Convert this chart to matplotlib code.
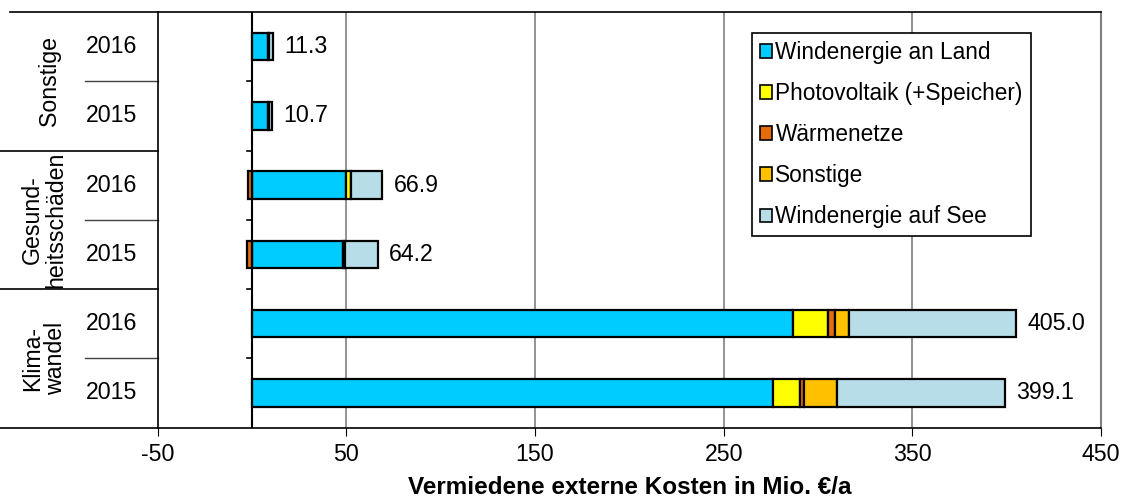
import matplotlib.pyplot as plt
import matplotlib.transforms as mtransforms
from matplotlib.lines import Line2D
import numpy as np

plt.rcParams['font.family'] = ['Liberation Sans', 'DejaVu Sans']
plt.rcParams['axes.unicode_minus'] = False

# Zeilen von unten nach oben
years = ['2015', '2016', '2015', '2016', '2015', '2016']
groups = ['Klima-\nwandel', 'Gesund-\nheitsschäden', 'Sonstige']

series_names = ['Windenergie an Land', 'Photovoltaik (+Speicher)', 'Wärmenetze',
                'Sonstige', 'Windenergie auf See']
wind_land = [276.2, 286.6, 48.0, 49.8, 8.6, 8.5]
pv = [14.1, 18.8, 1.4, 2.5, 0.2, 0.3]
waerme = [2.3, 3.6, -2.6, -2.2, 0.0, 0.0]
sonstige = [17.5, 7.5, 0.0, 0.0, 0.0, 0.0]
wind_see = [89.0, 88.5, 17.4, 16.8, 1.9, 2.5]
colors = ['#00CCFF', '#FFFF00', '#E46C0A', '#FFC000', '#B7DEE8']

xticks = [-50, 50, 150, 250, 350, 450]

FS = 16.7
W, H = 1124, 503
fig = plt.figure(figsize=(W / 100, H / 100), dpi=100)
ax = fig.add_axes([157.7 / W, 1 - 427.5 / H, (1101 - 157.7) / W, (427.5 - 12) / H])

data = np.array([wind_land, pv, waerme, sonstige, wind_see])
ypos = np.arange(len(years)) + 0.5
pos_left = np.zeros(len(years))
neg_left = np.zeros(len(years))
for vals, name, c in zip(data, series_names, colors):
    left = np.where(vals >= 0, pos_left, neg_left + vals)
    ax.barh(ypos, np.abs(vals), left=left, height=0.4, color=c,
            edgecolor='black', linewidth=1.6, label=name, zorder=3)
    pos_left = pos_left + np.where(vals > 0, vals, 0)
    neg_left = neg_left + np.where(vals < 0, vals, 0)

totals = data.sum(axis=0)
for y, end, t in zip(ypos, pos_left, totals):
    ax.annotate('%.1f' % t, (end, y), xytext=(8, 0), textcoords='offset points',
                va='center', ha='left', fontsize=FS)

ax.set_xlim(-50, 450)
ax.set_ylim(0, 6)
ax.set_xticks(xticks)
ax.tick_params(axis='x', labelsize=FS, length=6, pad=5)
for v in [50, 150, 250, 350]:
    ax.axvline(v, color='#808080', linewidth=1.2, zorder=1)

# y-Achse bei 0 mit Strichen an den Zeilengrenzen
ax.spines['right'].set_color('#808080')
ax.spines['right'].set_linewidth(1.5)
for s in ['top', 'bottom', 'left']:
    ax.spines[s].set_linewidth(1.2)
ax.set_yticks([])
ax.plot([0, 0], [0, 6], color='black', linewidth=1.5, zorder=4)
for b in range(1, 6):
    ax.plot([-2.8, 0], [b, b], color='black', linewidth=1.2, clip_on=False, zorder=4)

# Kategorientabelle links
trans = mtransforms.blended_transform_factory(fig.transFigure, ax.transData)
x_axis = 157.7 / W
for b in [0, 2, 4]:
    ax.add_line(Line2D([0, x_axis], [b, b], transform=trans, color='black',
                       linewidth=1.2, clip_on=False))
ax.add_line(Line2D([10 / W, x_axis], [6, 6], transform=trans, color='black',
                   linewidth=1.2, clip_on=False))
for b in [1, 3, 5]:
    ax.add_line(Line2D([85 / W, x_axis], [b, b], transform=trans, color='#404040',
                       linewidth=1.0, clip_on=False))
for y, yr in zip(ypos, years):
    ax.text(112 / W, y, yr, transform=trans, ha='center', va='center', fontsize=FS)
group_x = [44, 44, 50]
for i, g in enumerate(groups):
    ax.text(group_x[i] / W, 2 * i + 1, g, transform=trans, ha='center', va='center',
            rotation=90, fontsize=FS, multialignment='center', linespacing=1.0)

ax.set_xlabel('Vermiedene externe Kosten in Mio. €/a', fontsize=17.5,
              fontweight='bold', labelpad=7)

leg = ax.legend(loc='upper left', bbox_to_anchor=(751.7 / W, 1 - 33 / H),
                bbox_transform=fig.transFigure, fontsize=16.3, frameon=True,
                fancybox=False, framealpha=1, edgecolor='black',
                handlelength=0.55, handleheight=0.55, handletextpad=0.15,
                labelspacing=0.8, borderpad=0.35, borderaxespad=0)
leg.get_frame().set_linewidth(1.2)
for p in leg.get_patches():
    p.set_linewidth(1.2)

fig.savefig('out.png', dpi=100)
